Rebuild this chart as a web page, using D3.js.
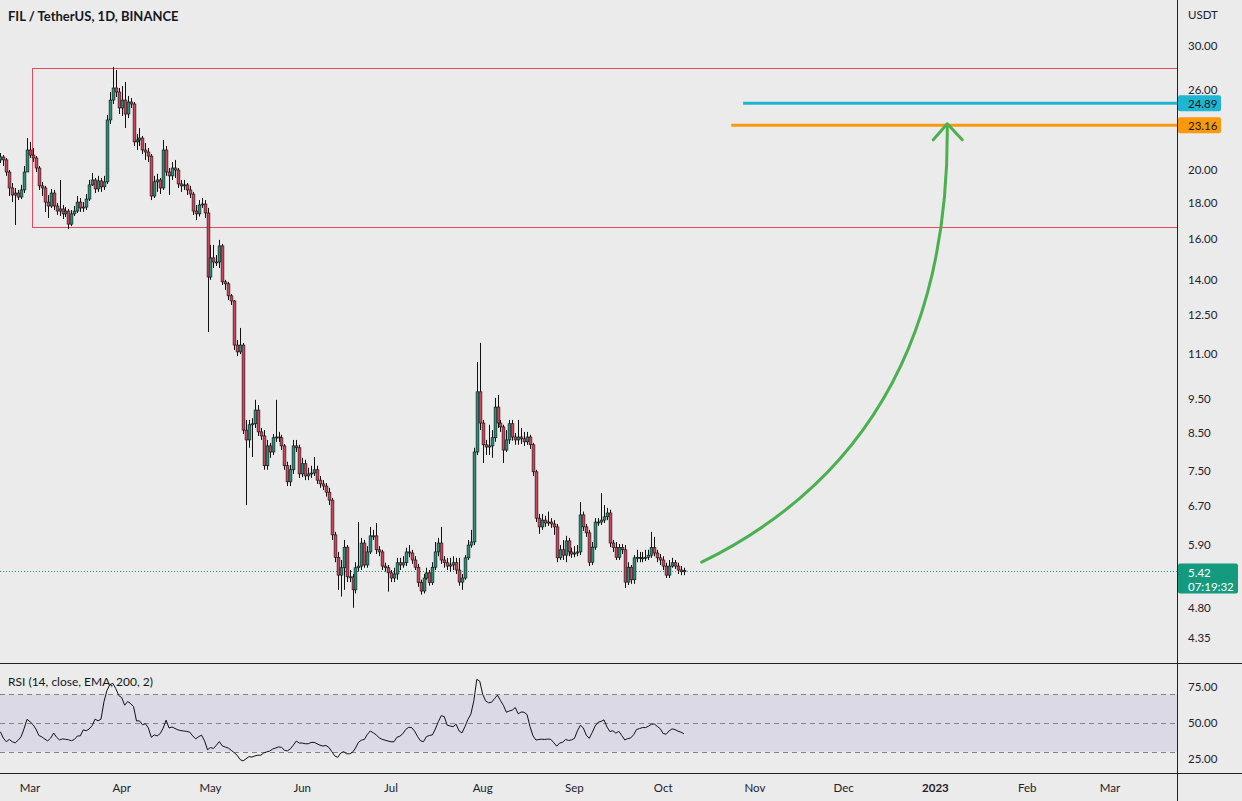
<!DOCTYPE html>
<html><head><meta charset="utf-8">
<script src="https://cdn.jsdelivr.net/npm/d3@7"></script>
<style>
html,body{margin:0;padding:0;background:#ebebeb;}
svg{display:block;font-family:Lato,"Open Sans",sans-serif;}
</style></head><body>
<svg id="chart" width="1242" height="801"></svg>
<script>
// ---------- DATA ----------
const title = "FIL / TetherUS, 1D, BINANCE";
const rsiTitle = "RSI (14, close, EMA, 200, 2)";
const currency = "USDT";
const startDate = "2022-02-19";
const firstOpen = 20.69;
const closes = [
20.89,20.69,19.89,18.88,18.45,18.57,18.33,18.76,19.89,21.37,
21.02,20.82,20.15,19.01,18.88,18.03,17.80,18.57,17.80,17.51,
17.63,17.35,17.51,16.78,17.35,17.51,18.03,17.69,17.74,18.21,
19.07,19.38,18.82,19.32,18.95,19.26,23.57,25.15,26.16,25.82,
24.51,25.15,24.03,24.99,24.83,21.94,22.08,22.22,21.37,21.23,
20.95,18.39,19.26,19.38,18.88,21.37,19.89,19.64,20.15,20.02,
19.13,19.01,19.07,18.76,18.51,17.51,17.35,17.86,17.92,17.40,
14.12,15.03,14.83,14.83,15.63,13.90,13.81,13.28,13.06,11.31,
11.06,11.31,8.57,8.30,8.72,8.75,9.15,8.52,8.41,7.63,
8.14,7.98,8.36,8.38,8.36,8.14,7.63,7.24,7.53,8.14,
8.09,7.43,7.68,7.38,7.43,7.45,7.53,7.28,7.19,7.14,
7.00,6.82,6.09,5.66,5.34,5.47,5.85,5.31,5.31,5.09,
5.47,5.50,5.93,5.52,5.76,6.07,6.07,5.80,5.76,5.50,
5.47,5.38,5.29,5.36,5.56,5.52,5.56,5.76,5.74,5.61,
5.48,5.21,5.07,5.29,5.38,5.21,5.48,5.76,5.93,5.61,
5.56,5.50,5.52,5.56,5.43,5.22,5.29,5.65,5.89,5.95,
7.98,9.71,8.77,8.17,8.11,8.14,8.36,9.24,8.77,8.66,
8.03,8.30,8.75,8.38,8.30,8.38,8.33,8.25,8.38,8.17,
7.48,6.43,6.25,6.39,6.33,6.35,6.31,6.25,5.65,5.80,
5.70,5.97,5.76,5.72,5.74,5.76,6.50,6.25,6.13,5.57,
5.85,6.35,6.35,6.39,6.46,6.54,5.93,5.84,5.66,5.84,
5.80,5.22,5.48,5.26,5.65,5.66,5.65,5.65,5.66,5.70,
5.84,5.74,5.65,5.61,5.50,5.34,5.50,5.56,5.50,5.43,
5.40,5.42
];
const highs = [
21.16,21.02,20.82,20.02,19.19,18.88,18.76,19.07,20.28,22.22,
21.94,21.51,20.95,20.28,19.26,19.01,18.45,18.82,18.76,17.98,
19.38,17.86,17.74,17.63,17.57,17.80,18.39,18.27,18.03,18.51,
19.38,19.83,19.51,19.64,19.51,19.64,23.95,25.82,28.02,27.74,
26.16,26.33,26.68,25.49,25.32,24.99,22.51,22.96,22.37,21.86,
21.51,21.09,19.64,19.77,19.51,22.08,21.65,20.15,20.55,20.69,
20.15,19.38,19.38,19.19,19.01,18.64,17.86,18.15,18.27,18.15,
17.69,15.68,15.68,15.17,15.94,15.73,13.99,13.90,13.36,13.10,
11.50,11.96,11.39,8.86,8.86,8.91,9.46,9.30,8.63,8.57,
8.30,8.22,8.46,9.46,8.52,8.44,8.19,7.73,7.65,8.30,
8.30,8.17,7.83,7.78,7.58,7.63,7.85,7.63,7.38,7.28,
7.21,7.10,6.87,6.15,5.76,5.61,5.99,5.89,5.43,5.36,
5.57,6.35,6.03,5.99,5.87,6.25,6.19,6.33,5.87,5.80,
5.56,5.52,5.43,5.47,5.65,5.65,5.68,5.84,5.89,5.80,
5.68,5.54,5.26,5.36,5.47,5.43,5.57,5.95,6.03,6.25,
5.68,5.65,5.65,5.68,5.65,5.65,5.36,5.70,5.99,6.19,
8.09,10.70,11.39,8.86,8.30,8.72,8.57,9.52,9.61,8.86,
8.72,8.57,8.86,8.86,8.49,8.86,8.63,8.52,8.52,8.44,
8.22,7.53,6.52,6.52,6.48,6.57,6.43,6.39,6.31,5.89,
5.99,6.07,6.03,5.84,5.87,5.89,6.78,6.57,6.31,6.19,
5.95,6.43,6.43,6.98,6.71,6.65,6.61,5.99,5.95,5.91,
5.91,5.89,5.57,5.52,5.70,5.80,5.76,5.76,5.80,5.80,
6.15,6.05,5.80,5.72,5.68,5.56,5.61,5.65,5.61,5.56,
5.50,5.47
];
const lows = [
20.48,20.28,19.64,18.39,18.03,16.73,18.15,18.21,18.57,19.89,
20.82,20.55,19.89,18.76,18.39,17.46,17.12,17.69,17.57,17.29,
17.23,17.06,17.17,16.51,16.67,17.23,17.40,17.46,17.46,17.57,
18.09,19.01,18.57,18.64,18.64,18.76,19.13,23.26,24.83,25.40,
24.03,23.87,22.96,23.72,24.51,21.65,21.37,21.65,21.09,20.69,
20.55,18.15,18.27,18.64,18.51,18.76,19.64,18.45,19.38,19.51,
18.88,18.64,18.76,18.45,18.27,17.29,17.00,17.20,17.69,17.12,
11.80,13.99,14.54,14.64,14.54,13.76,13.54,13.10,12.89,11.13,
10.91,10.98,8.46,6.71,8.09,7.85,8.63,8.41,8.30,7.53,
7.53,7.83,7.90,8.25,8.25,8.03,7.53,7.14,7.14,7.43,
7.98,7.33,7.35,7.28,7.28,7.33,7.38,7.19,7.10,7.05,
6.90,6.71,5.99,5.57,5.09,4.98,5.09,5.22,5.22,4.80,
5.03,5.40,5.43,5.47,5.47,5.72,5.99,5.72,5.68,5.43,
5.40,5.06,5.22,5.22,5.26,5.43,5.47,5.50,5.66,5.54,
5.43,5.14,5.01,5.03,5.26,5.16,5.17,5.43,5.68,5.54,
5.47,5.43,5.40,5.43,5.36,5.16,5.09,5.26,5.61,5.84,
5.89,7.90,8.57,7.70,7.90,7.90,7.83,8.25,8.63,8.52,
7.70,7.98,8.19,8.28,8.17,8.17,8.19,8.14,8.17,8.06,
7.38,6.35,6.11,6.19,6.25,6.27,6.23,6.09,5.57,5.61,
5.61,5.57,5.68,5.65,5.66,5.68,5.70,6.17,6.05,5.50,
5.52,5.80,6.27,6.29,6.33,6.39,5.85,5.76,5.61,5.61,
5.72,5.12,5.17,5.19,5.19,5.57,5.57,5.57,5.59,5.61,
5.65,5.68,5.57,5.52,5.43,5.29,5.29,5.47,5.45,5.36,
5.34,5.34
];
const rsiValues = [
43.9,39.4,36.9,38.5,36.9,36.1,38.0,40.4,46.0,52.6,
50.9,48.9,45.8,41.3,40.3,38.8,37.5,39.5,43.0,40.0,
38.2,38.9,38.6,38.3,37.6,38.5,40.9,41.0,45.2,44.6,
45.8,48.2,52.7,51.5,52.7,64.8,72.7,76.8,77.7,74.0,
69.2,67.7,62.4,65.0,63.6,61.4,51.4,51.5,48.8,49.5,
46.6,40.0,41.7,41.0,42.6,46.4,52.0,46.5,47.2,46.2,
45.2,44.7,44.4,44.1,43.6,41.0,38.9,40.5,41.5,37.5,
31.3,32.9,32.2,34.5,37.0,34.0,33.2,32.5,31.0,29.3,
27.5,24.5,23.5,25.0,26.5,26.2,27.0,27.5,27.5,29.1,
29.8,30.4,31.8,32.5,33.3,33.0,31.0,30.5,32.0,34.5,
37.4,36.0,36.0,35.5,35.5,36.4,36.5,35.5,34.5,33.9,
34.3,33.0,30.0,27.0,26.0,29.0,30.0,28.5,28.5,29.5,
32.5,36.5,38.0,38.5,42.0,44.4,43.2,41.7,39.7,38.6,
38.0,37.4,36.9,36.9,40.0,40.8,42.5,45.5,47.0,46.8,
44.3,40.5,37.5,37.0,40.5,41.3,41.7,45.8,50.9,55.1,
54.5,48.5,47.9,47.4,49.2,44.5,43.1,47.4,52.5,56.2,
65.5,80.5,79.2,70.0,65.4,64.1,64.5,67.0,69.5,65.7,
62.3,57.5,58.4,59.0,60.8,56.4,57.7,57.5,55.8,47.4,
41.0,38.1,38.5,38.7,38.5,38.8,38.6,36.3,33.8,36.0,
36.5,38.5,37.8,38.2,39.2,44.5,48.4,46.6,41.5,39.3,
43.3,47.9,50.5,51.1,52.2,47.2,44.0,44.6,42.9,44.2,
41.3,38.2,39.1,39.5,41.8,45.5,46.1,46.8,46.8,47.7,
49.1,49.3,47.6,46.0,42.6,42.2,44.5,45.9,45.4,44.3,
43.6,42.5
];
const priceTicks = [30,26,20,18,16,14,12.5,11,9.5,8.5,7.5,6.7,5.9,4.8,4.35];
const rsiTicks = [75,50,25];
const rsiLevels = [70,50,30];
const rsiBand = [30,70];
const monthDates = ["2022-03-01","2022-04-01","2022-05-01","2022-06-01","2022-07-01","2022-08-01","2022-09-01","2022-10-01","2022-11-01","2022-12-01","2023-01-01","2023-02-01","2023-03-01"];
const monthLabels = ["Mar","Apr","May","Jun","Jul","Aug","Sep","Oct","Nov","Dec","2023","Feb","Mar"];
const zoneStart = "2022-03-02";
const zoneTop = 27.9;
const zoneBottom = 16.62;
const levelNames = ["cyan","orange"];
const levelValues = [24.89, 23.16];
const levelStarts = ["2022-10-28","2022-10-24"];
const lastPrice = 5.42;
const countdown = "07:19:32";
const arrowDates = ["2022-10-14","2023-01-06","2023-01-05"];
const arrowPrices = [5.57, 8.30, 23.16];

// ---------- STYLE / LAYOUT ----------
const W = 1242, H = 801, axisX = 1177, mainBottom = 663, rsiBottom = 773;
const bg = "#ebebeb", ink = "#1e222d";
const upColor = "#26907a", downColor = "#d1435b";
const levelColors = {cyan:"#1eb6d0", orange:"#fb980e"};
const lastColor = "#139a7f";

const parse = d3.utcParse("%Y-%m-%d");
const x = d3.scaleUtc().domain([parse("2022-02-19"), parse("2023-03-01")]).range([0.4, 1110]);
const y = d3.scaleLog().domain([4.35, 30]).range([638, 46]);
const yr = d3.scaleLinear().domain([25, 75]).range([758.8, 687.2]);

const svg = d3.select("#chart");
svg.append("rect").attr("width", W).attr("height", H).attr("fill", bg);
const defs = svg.append("defs");
defs.append("clipPath").attr("id","clipMain").append("rect").attr("x",0).attr("y",0).attr("width",axisX).attr("height",mainBottom);
defs.append("clipPath").attr("id","clipRsi").append("rect").attr("x",0).attr("y",mainBottom).attr("width",axisX).attr("height",rsiBottom-mainBottom);

const start = parse(startDate);
const candles = closes.map((c,i)=>({
  date: d3.utcDay.offset(start, i),
  open: i ? closes[i-1] : firstOpen,
  close: c, high: highs[i], low: lows[i]
}));

// ---------- MAIN PANE ----------
const main = svg.append("g").attr("clip-path","url(#clipMain)");

const zx0 = x(parse(zoneStart));
main.append("rect")
  .attr("x", Math.round(zx0)-0.5).attr("y", Math.round(y(zoneTop))+0.5)
  .attr("width", axisX - Math.round(zx0)+1).attr("height", Math.round(y(zoneBottom)) - Math.round(y(zoneTop)))
  .attr("fill","none").attr("stroke","#e24a5e").attr("stroke-width",1);

main.append("line")
  .attr("x1",0).attr("x2",axisX)
  .attr("y1", Math.round(y(lastPrice))+0.5).attr("y2", Math.round(y(lastPrice))+0.5)
  .attr("stroke", lastColor).attr("stroke-width",1).attr("stroke-dasharray","1,2");

main.append("g").selectAll("line").data(candles).join("line")
  .attr("x1", d=>Math.round(x(d.date))+0.5).attr("x2", d=>Math.round(x(d.date))+0.5)
  .attr("y1", d=>y(Math.max(d.high,d.open,d.close))).attr("y2", d=>y(Math.min(d.low,d.open,d.close)))
  .attr("stroke","#111").attr("stroke-width",1);

main.append("g").selectAll("rect").data(candles).join("rect")
  .attr("x", d=>Math.round(x(d.date))-0.9)
  .attr("width", 2.8)
  .attr("y", d=>y(Math.max(d.open,d.close)))
  .attr("height", d=>Math.max(1, Math.abs(y(d.open)-y(d.close))))
  .attr("fill", d=> d.close>=d.open ? upColor : downColor)
  .attr("stroke","#111").attr("stroke-width",0.6);

levelNames.forEach((n,k)=>{
  const yy = y(levelValues[k]);
  main.append("line").attr("x1", x(parse(levelStarts[k]))).attr("x2", axisX)
    .attr("y1", yy).attr("y2", yy).attr("stroke", levelColors[n]).attr("stroke-width",3);
});

const ap = arrowDates.map((d,k)=>[x(parse(d)), y(arrowPrices[k])]);
const pth = d3.path();
pth.moveTo(ap[0][0], ap[0][1]);
pth.quadraticCurveTo(ap[1][0], ap[1][1], ap[2][0], ap[2][1]);
main.append("path").attr("d", pth.toString()).attr("fill","none")
  .attr("stroke","#4caf50").attr("stroke-width",3).attr("stroke-linecap","round");
const tip = [ap[2][0], ap[2][1]-1.5];
main.append("path")
  .attr("d", `M${tip[0]-14},${tip[1]+16}L${tip[0]},${tip[1]}L${tip[0]+15},${tip[1]+16}`)
  .attr("fill","none").attr("stroke","#4caf50").attr("stroke-width",3)
  .attr("stroke-linecap","round").attr("stroke-linejoin","round");

svg.append("text").attr("x",8).attr("y",16).attr("dominant-baseline","central")
  .attr("font-size",13).attr("font-weight",700).attr("fill","#131722").text(title);

// ---------- RSI PANE ----------
const rsiG = svg.append("g").attr("clip-path","url(#clipRsi)");
rsiG.append("rect").attr("x",0).attr("width",axisX)
  .attr("y", yr(rsiBand[1])).attr("height", yr(rsiBand[0]) - yr(rsiBand[1]))
  .attr("fill","#dcd9e7");
rsiG.selectAll("line.lvl").data(rsiLevels).join("line").attr("class","lvl")
  .attr("x1",0).attr("x2",axisX)
  .attr("y1", d=>Math.round(yr(d))+0.5).attr("y2", d=>Math.round(yr(d))+0.5)
  .attr("stroke","#858585").attr("stroke-width",1).attr("stroke-dasharray","5,4");
const rsiLine = d3.line().x((d,i)=>x(candles[i].date)).y(d=>yr(d));
rsiG.append("path").attr("d", rsiLine(rsiValues)).attr("fill","none")
  .attr("stroke","#111").attr("stroke-width",1);
svg.append("text").attr("x",8).attr("y",681).attr("dominant-baseline","central")
  .attr("font-size",12).attr("fill","#131722").text(rsiTitle);

// ---------- SEPARATORS ----------
svg.append("line").attr("x1",axisX+0.5).attr("x2",axisX+0.5).attr("y1",0).attr("y2",H).attr("stroke",ink).attr("stroke-width",1);
svg.append("line").attr("x1",0).attr("x2",W).attr("y1",mainBottom+0.5).attr("y2",mainBottom+0.5).attr("stroke",ink).attr("stroke-width",1);
svg.append("line").attr("x1",0).attr("x2",W).attr("y1",rsiBottom+0.5).attr("y2",rsiBottom+0.5).attr("stroke",ink).attr("stroke-width",1);

// ---------- PRICE AXIS ----------
const yAxis = d3.axisRight(y).tickValues(priceTicks).tickFormat(d3.format(".2f")).tickSize(0).tickPadding(10);
const ya = svg.append("g").attr("transform",`translate(${axisX+1},0)`).call(yAxis);
ya.select(".domain").remove();
ya.selectAll("text").attr("font-size",11.5).attr("fill",ink).attr("font-family","Lato");
svg.append("text").attr("x",1188).attr("y",14).attr("dominant-baseline","central")
  .attr("font-size",11.5).attr("fill",ink).text(currency);

levelNames.forEach((n,k)=>{
  const yy = y(levelValues[k]);
  svg.append("rect").attr("x",axisX+1).attr("y",yy-8).attr("width",43).attr("height",16).attr("rx",2).attr("fill",levelColors[n]);
  svg.append("text").attr("x",1188).attr("y",yy).attr("dominant-baseline","central")
    .attr("font-size",11.5).attr("fill","#131722").text(d3.format(".2f")(levelValues[k]));
});
const ly = y(lastPrice);
svg.append("rect").attr("x",axisX+1).attr("y",ly-7).attr("width",60).attr("height",30).attr("rx",2).attr("fill",lastColor);
svg.append("text").attr("x",1188).attr("y",ly+1.5).attr("dominant-baseline","central")
  .attr("font-size",11.5).attr("fill","#fff").text(d3.format(".2f")(lastPrice));
svg.append("text").attr("x",1188).attr("y",ly+15.5).attr("dominant-baseline","central")
  .attr("font-size",11.5).attr("fill","#fff").text(countdown);

// ---------- RSI AXIS ----------
const rAxis = d3.axisRight(yr).tickValues(rsiTicks).tickFormat(d3.format(".2f")).tickSize(0).tickPadding(10);
const ra = svg.append("g").attr("transform",`translate(${axisX+1},0)`).call(rAxis);
ra.select(".domain").remove();
ra.selectAll("text").attr("font-size",11.5).attr("fill",ink).attr("font-family","Lato");

// ---------- TIME AXIS ----------
svg.append("g").selectAll("text").data(monthDates).join("text")
  .attr("x", d=>x(parse(d))).attr("y",787).attr("text-anchor","middle").attr("dominant-baseline","central")
  .attr("font-size",11.5).attr("fill",ink)
  .attr("font-weight",(d,i)=> monthLabels[i]==="2023" ? 700 : 400)
  .text((d,i)=>monthLabels[i]);
</script>
</body></html>
